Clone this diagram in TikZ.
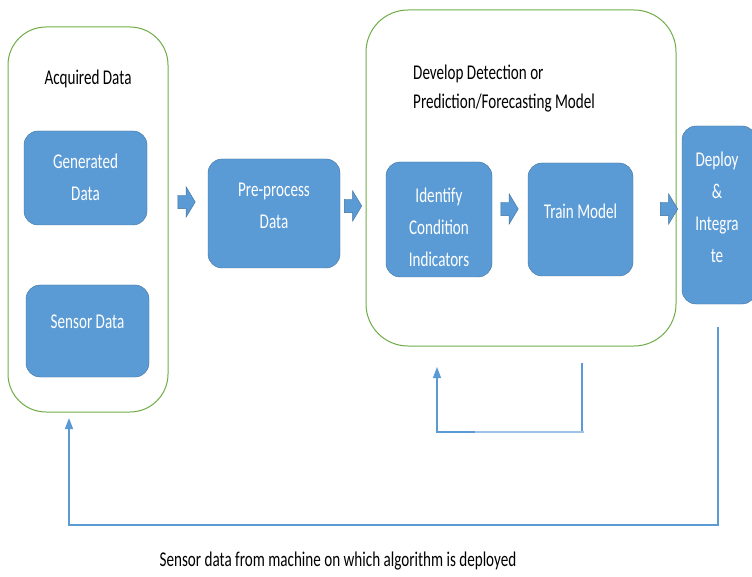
\documentclass[tikz,border=0pt]{standalone}
\usepackage{fontspec}
\setmainfont{Carlito}[FakeStretch=0.72]
\usetikzlibrary{shapes.arrows,arrows.meta}
\definecolor{boxblue}{RGB}{91,155,213}
\definecolor{edgeblue}{RGB}{65,113,156}
\definecolor{groupgreen}{RGB}{112,173,71}
\definecolor{lineblue}{RGB}{91,155,213}
\definecolor{paleblue}{RGB}{160,195,232}

\tikzset{
  blockbox/.style={draw=edgeblue,fill=boxblue,rounded corners=14pt,inner sep=0pt},
  boxtext/.style={text=white,align=center,inner sep=0pt},
  groupbox/.style={draw=groupgreen,line width=1pt,rounded corners=38pt,inner sep=0pt},
  blockarrow/.style={shape=single arrow,draw=edgeblue,fill=boxblue,inner sep=6.5pt,
    single arrow head extend=8.5pt,single arrow tip angle=118,minimum height=17pt},
  fbline/.style={draw=lineblue,line width=1.6pt},
}

\begin{document}
\begin{tikzpicture}[x=1pt,y=-1pt,font=\fontsize{21}{32}\selectfont]
  \useasboundingbox[fill=white] (0,0) rectangle (752,577);

  % acquired data group
  \node[groupbox,minimum width=160pt,minimum height=385pt] (acq) at (88,219.5) {};
  \node (acqtitle) at (88,79) {Acquired Data};
  \node[blockbox,minimum width=123pt,minimum height=94pt] (gen) at (85.5,178) {};
  \node[boxtext] (gentxt) at (85.5,177) {Generated\\Data};
  \node[blockbox,minimum width=123pt,minimum height=92pt] (sens) at (87.5,331) {};
  \node[boxtext] (senstxt) at (87.5,322) {Sensor Data};

  \node[blockbox,minimum width=132pt,minimum height=109pt] (prep) at (274,213.5) {};
  \node[boxtext] (preptxt) at (274,205.5) {Pre-process\\Data};

  % model group
  \node[groupbox,minimum width=310pt,minimum height=336pt,rounded corners=42pt] (dev) at (521,178) {};
  \node[anchor=west,align=left,inner sep=0pt,font=\fontsize{21}{29}\selectfont] (devtitle) at (413,88.5)
    {Develop Detection or\\Prediction/Forecasting Model};
  \node[blockbox,minimum width=106pt,minimum height=115pt] (ident) at (439,219.5) {};
  \node[boxtext] (identtxt) at (439,227) {Identify\\Condition\\Indicators};
  \node[blockbox,minimum width=105pt,minimum height=113pt] (train) at (580.5,219.5) {};
  \node[boxtext] (traintxt) at (580.5,211) {Train Model};

  \node[blockbox,minimum width=74pt,minimum height=178pt] (deploy) at (719,215) {};
  \node[boxtext] (deploytxt) at (717,207) {Deploy\\\&\\Integra\\te};

  % block arrows
  \node[blockarrow] (arr1) at (184.5,202) {};
  \node[blockarrow] (arr2) at (351,206) {};
  \node[blockarrow] (arr3) at (507.5,209) {};
  \node[blockarrow] (arr4) at (667,209) {};

  % feedback loops
  \coordinate (tstart) at (582,363);
  \coordinate (tend) at (437,367);
  \draw[fbline,line width=1.1pt,-{Triangle[width=8pt,length=11pt]}] (tstart) -- ++(0,69) -| (tend);
  \draw[paleblue,line width=2.4pt] (437,432) -- (584,432);
  \draw[boxblue,line width=2.4pt] (437,432) -- (475,432);

  \coordinate (dstart) at (718,327);
  \coordinate (dend) at (69,418);
  \draw[fbline,-{Triangle[width=8pt,length=11pt]}] (dstart) -- ++(0,198) -| (dend);

  \node (note) at (338,561) {Sensor data from machine on which algorithm is deployed};
\end{tikzpicture}
\end{document}
